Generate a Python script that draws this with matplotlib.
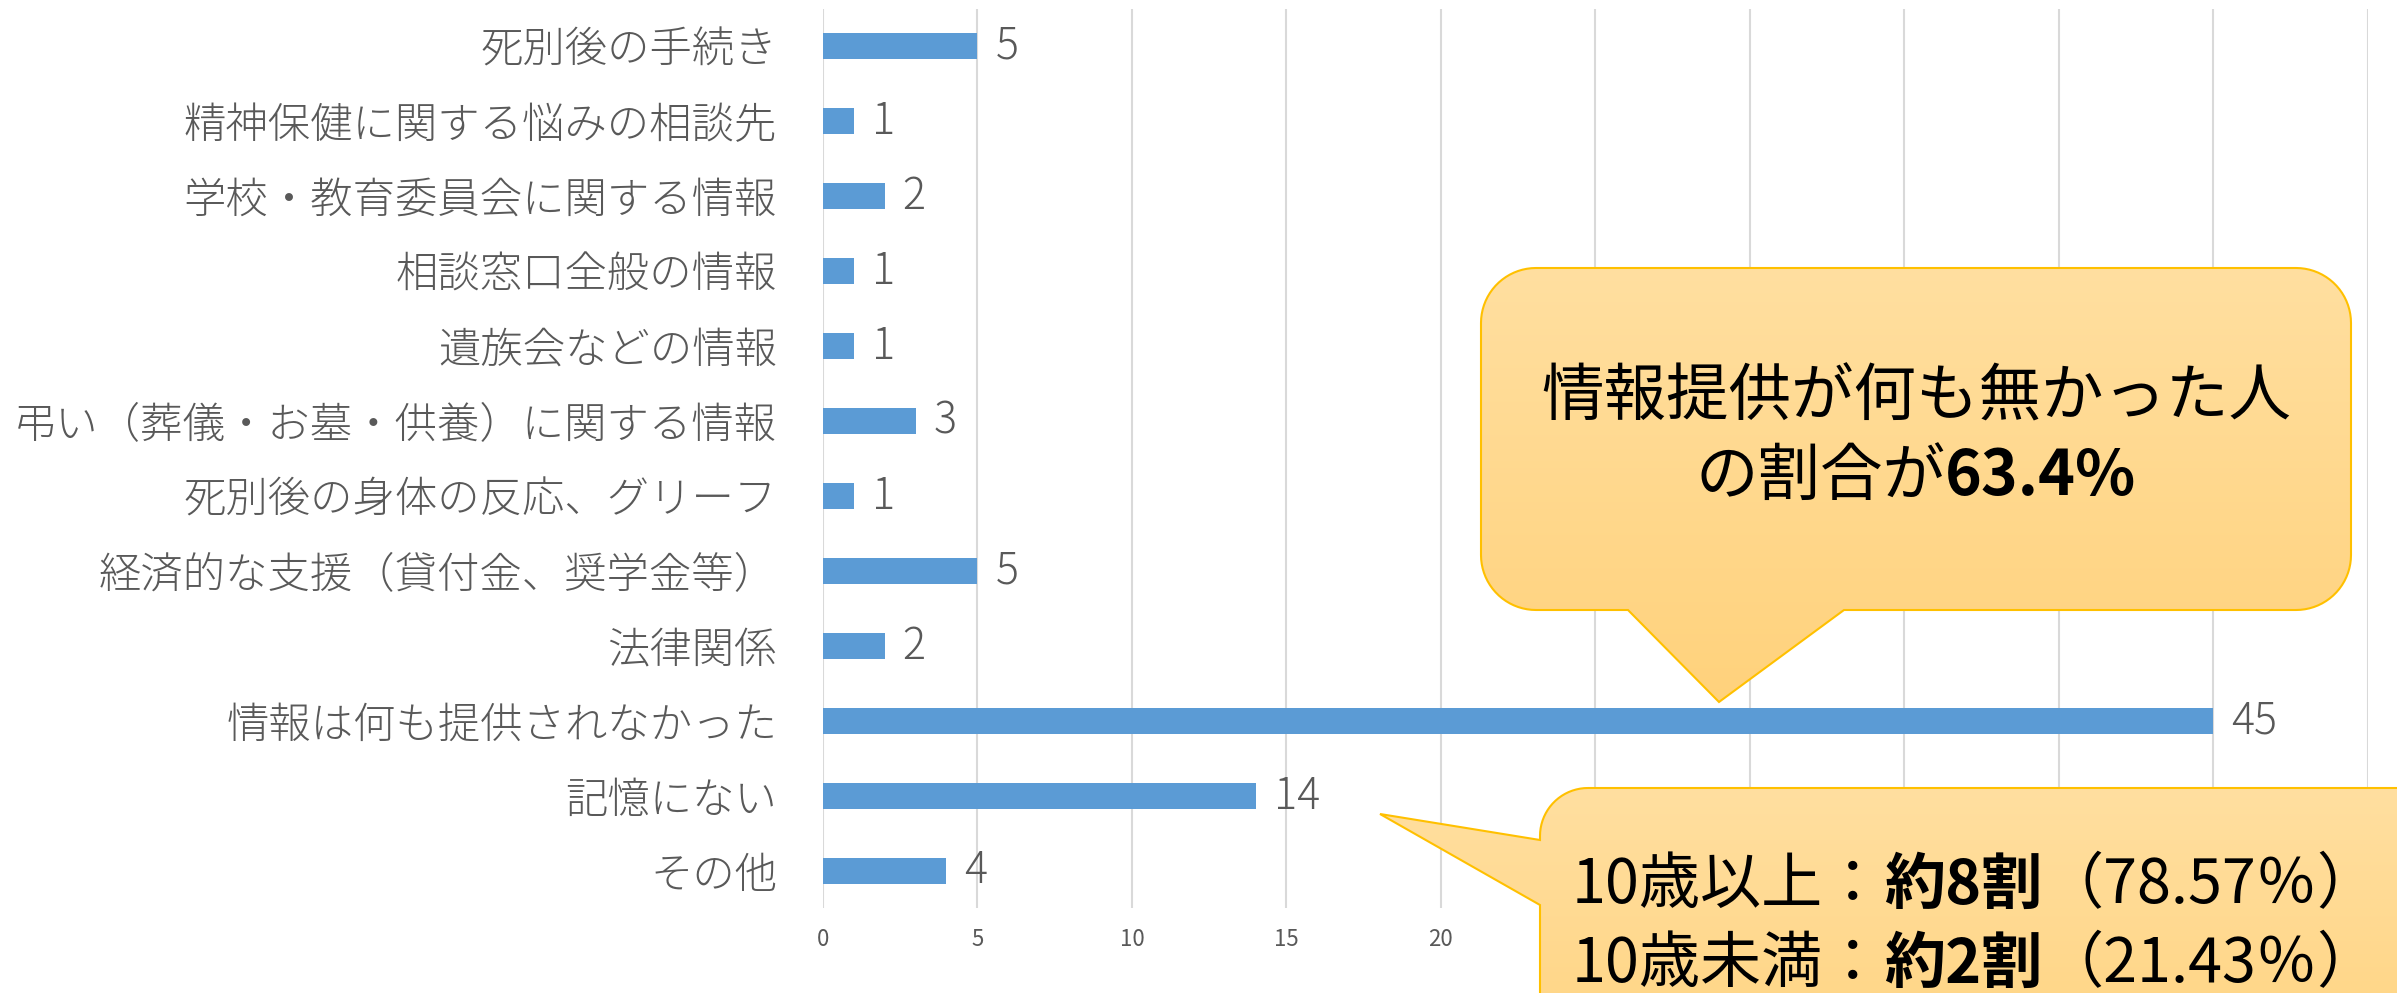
import numpy as np
import matplotlib
matplotlib.use("Agg")
import matplotlib.pyplot as plt
from matplotlib.patches import Polygon
from matplotlib.colors import LinearSegmentedColormap

plt.rcParams['font.family'] = ['Noto Sans CJK JP', 'DejaVu Sans']

categories = ['死別後の手続き', '精神保健に関する悩みの相談先', '学校・教育委員会に関する情報',
              '相談窓口全般の情報', '遺族会などの情報', '弔い（葬儀・お墓・供養）に関する情報',
              '死別後の身体の反応、グリーフ', '経済的な支援（貸付金、奨学金等）', '法律関係',
              '情報は何も提供されなかった', '記憶にない', 'その他']
values = [5, 1, 2, 1, 1, 3, 1, 5, 2, 45, 14, 4]
xticks = [0, 5, 10, 15, 20, 25, 30, 35, 40, 45, 50]
# labels from 25 up sit under the lower callout in the reference
xtick_labels = ['0', '5', '10', '15', '20', '', '', '', '', '', '']

W, H = 2397, 993
fig = plt.figure(figsize=(W / 100, H / 100), dpi=100)
ax = fig.add_axes([0.3433, 0.0851, 0.6446, 0.9063])

y = np.arange(len(categories))
bars = ax.barh(y, values, height=0.35, color='#5B9BD5', zorder=2)
ax.bar_label(bars, labels=[str(v) for v in values], padding=13, fontsize=31,
             color='#595959', fontweight='light')
ax.set_yticks(y, categories)
ax.set_ylim(len(categories) - 0.5, -0.5)
ax.set_xlim(0, 50)
ax.set_xticks(xticks, xtick_labels)
ax.tick_params(axis='y', length=0, pad=33, labelsize=30.5, labelcolor='#595959')
ax.tick_params(axis='x', length=0, pad=14, labelsize=16, labelcolor='#595959')
for lab in ax.get_yticklabels():
    lab.set_fontweight('light')
ax.grid(axis='x', color='#D9D9D9', linewidth=1.5, zorder=0)
for s in ax.spines.values():
    s.set_visible(False)

# overlay in pixel coords (y down) for the callouts
ov = fig.add_axes([0, 0, 1, 1], zorder=5)
ov.set_xlim(0, W)
ov.set_ylim(H, 0)
ov.axis('off')
ov.patch.set_alpha(0)

grad_cmap = LinearSegmentedColormap.from_list('g', ['#FFDFA0', '#FFD27C'])


def bubble(x0, y0, x1, y1, r, side, tail):
    def arc(cx, cy, a0, a1):
        t = np.radians(np.linspace(a0, a1, 20))
        return list(zip(cx + r * np.cos(t), cy + r * np.sin(t)))
    pts = [(x0 + r, y0), (x1 - r, y0)]
    pts += arc(x1 - r, y0 + r, -90, 0)
    pts += arc(x1 - r, y1 - r, 0, 90)
    if side == 'bottom':
        pts += [(tail[1], y1), tail[2], (tail[0], y1)]
    pts += arc(x0 + r, y1 - r, 90, 180)
    if side == 'left':
        pts += [(x0, tail[1]), tail[2], (x0, tail[0])]
    pts += arc(x0 + r, y0 + r, 180, 270)
    poly = Polygon(pts, closed=True, facecolor='none', edgecolor='#FFC000',
                   linewidth=1.5, zorder=3)
    ov.add_patch(poly)
    grad = np.linspace(0, 1, 256).reshape(-1, 1)
    ys = [p[1] for p in pts]
    xs = [p[0] for p in pts]
    im = ov.imshow(grad, cmap=grad_cmap, aspect='auto', zorder=2,
                   extent=[min(xs), max(xs), max(ys), min(ys)])
    im.set_clip_path(poly)


bubble(1481, 268, 2351, 610, 55, 'bottom', (1628, 1844, (1719, 702)))
bubble(1540, 788, 2460, 1120, 48, 'left', (840, 905, (1380, 814)))
ov.set_xlim(0, W)
ov.set_ylim(H, 0)

renderer = fig.canvas.get_renderer()


def run_text(x, yc, parts, size, ha='left'):
    items = []
    for s, bold in parts:
        t = ov.text(0, yc, s, fontsize=size, va='center', ha='left', color='black',
                    fontweight='bold' if bold else 'normal', zorder=6)
        items.append(t)
    widths = [t.get_window_extent(renderer).width for t in items]
    start = x - sum(widths) / 2 if ha == 'center' else x
    for t, w in zip(items, widths):
        t.set_x(start)
        start += w


run_text(1916, 398, [('情報提供が何も無かった人', False)], 45, 'center')
run_text(1916, 477, [('の割合が', False), ('63.4%', True)], 45, 'center')
run_text(1572, 886, [('10歳以上：', False), ('約8割', True), ('（78.57％）', False)], 44)
run_text(1572, 965, [('10歳未満：', False), ('約2割', True), ('（21.43％）', False)], 44)

fig.savefig('out.png', dpi=100)
